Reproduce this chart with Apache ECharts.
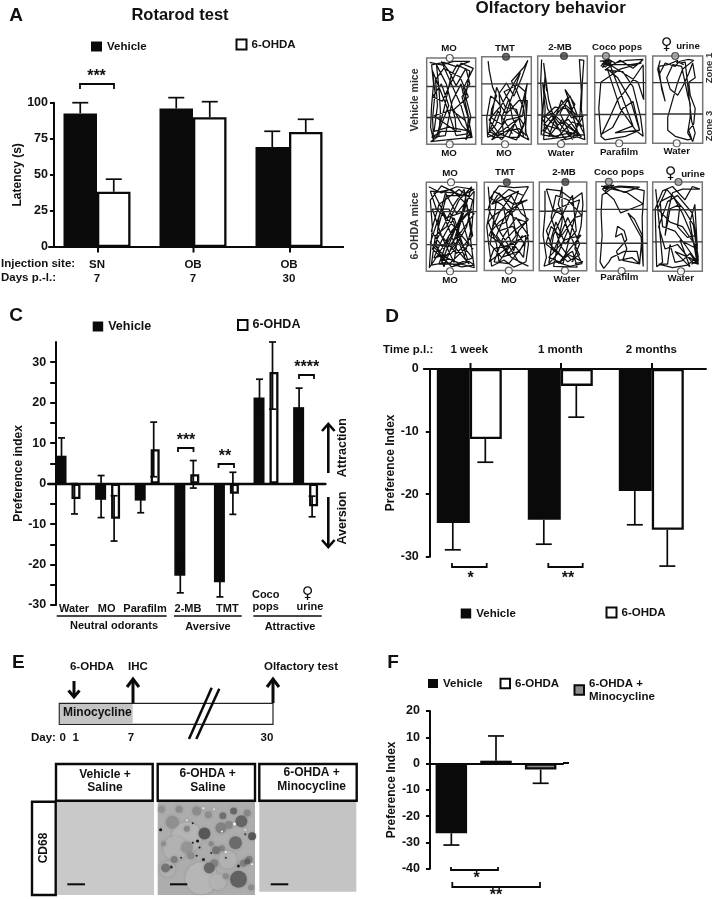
<!DOCTYPE html>
<html><head><meta charset="utf-8">
<style>html,body{margin:0;padding:0;background:#fff}#c{width:714px;height:899px;filter:blur(0.45px)}</style>
<script src="https://cdn.jsdelivr.net/npm/echarts@6/dist/echarts.min.js"></script>
</head><body><div id="c"></div>
<script>
// ---------- Panel A
const aCats = ['SN','OB','OB'];
const aDays = ['7','7','30'];
const aYTicks = {min:0,max:100,interval:25};
const aVehicle = [92.6,96,69.3];
const aVehicleErr = [100,103.5,80.2];
const aOhda = [38.3,90,79.7];
const aOhdaErr = [47,100.7,88.5];
// ---------- Panel C
const cCats = ['Water','MO','Parafilm','2-MB','TMT','Coco\npops','♀\nurine'];
const cVehicle = [6.9,-4,-4.2,-22.8,-24.4,21.3,18.9];
const cVehicleLow = [0,-8.4,-7.2,-27,-28,17,14];
const cVehicleHigh = [11.3,2,-1,-19,-21,25.8,23.6];
const cOhda = [-3.8,-8.7,8.5,2.3,-2.5,27.6,-5.6];
const cOhdaLow = [-7.5,-14.2,1.7,-1.1,-7.6,18.4,-8.2];
const cOhdaHigh = [0,-3,15.2,5.7,2.8,35,-3.1];
// ---------- Panel D
const dCats = ['1 week','1 month','2 months'];
const dVehicle = [-24.6,-24.1,-19.5];
const dVehicleErr = [-28.9,-28,-24.9];
const dOhda = [-11.2,-2.7,-25.7];
const dOhdaErr = [-14.9,-7.7,-31.5];
// ---------- Panel F
const fCats = ['Vehicle','6-OHDA','6-OHDA + Minocycline'];
const fValues = [-26.5,1.1,-2.3];
const fErr = [-31,10.5,-7.5];
// ---------- Panel B tracks (x %, y % from top of the arena)
const trackV1=[[6,5],[30,8],[55,4],[88,4],[60,10],[35,5],[10,8],[14,30],[10,55],[8,80],[14,96],[12,70],[17,40],[12,15],[40,55],[60,90],[82,88],[85,70],[72,45],[88,30],[80,12],[60,32],[45,15],[30,4],[70,55],[85,85],[90,92],[78,72],[50,60],[15,67],[35,75],[60,85],[58,70],[40,30],[20,8],[25,35],[28,62],[25,90],[8,97],[40,95],[70,93],[93,92],[85,82],[90,68],[75,35],[95,12],[70,6],[48,30],[32,50],[12,45],[30,30],[45,55],[20,92],[35,60],[50,20],[62,8],[88,15],[78,50],[92,90],[72,78],[55,60],[85,45],[68,22],[35,12],[18,25],[22,55],[15,85],[45,80],[90,85],[80,95],[88,75],[70,30],[52,50],[38,90],[10,92],[30,85],[70,85]];
const trackV2=[[13,5],[15,15],[22,35],[30,45],[20,60],[15,85],[30,90],[50,85],[75,82],[90,90],[85,60],[70,38],[60,28],[85,12],[93,4],[80,25],[65,45],[50,30],[35,42],[38,62],[28,78],[12,88],[25,92],[45,92],[40,70],[55,48],[62,70],[78,90],[95,95],[88,85],[92,50],[75,50],[50,65],[30,50],[18,45],[10,70],[12,92],[40,85],[70,72],[55,92],[75,92],[85,78],[60,55],[45,40],[72,32],[88,40],[90,70],[70,95],[35,88],[15,72],[40,55],[60,35],[78,18],[55,55],[42,78],[20,70],[30,35],[48,58],[70,60],[85,92],[58,82],[20,95],[50,72],[82,68],[92,30],[75,70],[40,95],[18,82],[33,62],[62,88]];
const trackV3=[[8,4],[6,30],[9,60],[7,90],[12,50],[15,20],[18,40],[12,8],[22,50],[35,75],[55,95],[80,92],[95,95],[88,60],[90,30],[93,5],[84,4],[88,40],[85,70],[70,95],[45,65],[65,45],[80,68],[55,55],[25,75],[10,90],[40,92],[70,75],[90,80],[60,60],[35,58],[15,68],[45,85],[75,55],[55,38],[70,62],[95,90],[60,88],[30,92],[8,70],[30,65],[55,78],[85,90],[12,95],[15,60],[10,30],[20,60],[40,78],[62,72],[88,92],[50,72],[22,92],[48,50],[68,70],[92,68],[72,88],[35,82],[12,78],[60,48],[80,85],[50,95],[10,85],[35,70],[65,92]];
const trackV4=[[10,6],[28,5],[18,10],[32,8],[15,13],[25,3],[40,8],[62,5],[95,4],[75,14],[50,5],[30,12],[20,16],[55,18],[75,35],[90,70],[95,92],[80,85],[50,60],[25,15],[45,25],[70,50],[88,85],[60,92],[20,96],[12,92],[30,70],[45,50],[60,40],[95,10],[96,50],[85,30],[30,10],[70,10],[92,8],[50,15],[12,30],[8,60],[12,90],[35,82],[55,60],[75,52],[88,85],[40,88],[75,80],[30,10],[16,6],[34,6],[20,13],[28,8],[14,9],[36,12],[22,4],[12,12]];
const trackV5=[[15,5],[10,15],[18,35],[25,52],[18,38],[12,12],[30,10],[50,5],[48,8],[55,6],[70,4],[82,5],[60,15],[50,30],[40,50],[35,60],[30,70],[30,85],[45,92],[70,96],[78,95],[72,85],[82,78],[85,60],[75,45],[72,30],[85,25],[80,8],[72,20],[60,35],[50,45],[35,38],[28,25],[40,10],[58,12],[70,45],[75,55],[75,70],[70,88],[80,98],[85,88],[78,75],[65,7],[57,8],[62,10],[52,7],[45,12],[25,8],[14,20]];
const trackM1=[[5,5],[30,12],[60,5],[95,8],[70,15],[30,4],[8,20],[12,50],[8,80],[6,96],[25,80],[50,55],[85,32],[95,35],[70,55],[45,72],[15,70],[40,85],[70,92],[95,96],[88,65],[92,40],[95,10],[60,35],[38,12],[25,40],[20,70],[35,95],[55,65],[72,35],[80,12],[65,50],[55,90],[30,60],[12,30],[45,30],[70,70],[92,85],[60,92],[25,92],[45,60],[90,30],[40,40],[15,12],[50,8],[80,25],[88,55],[75,85],[95,93],[70,95],[40,90],[10,93],[18,60],[40,50],[65,20],[90,5],[60,60],[80,90],[50,95],[8,68],[30,30],[60,75],[85,92],[55,40],[35,60],[15,85],[50,80],[80,50],[92,20],[65,8],[25,25],[10,55],[35,75],[70,40],[85,70],[45,92],[12,75],[55,25],[75,8],[92,60],[60,80],[22,55],[40,15],[85,15],[30,90],[70,60],[93,75],[48,45],[20,30],[8,10],[55,12]];
const trackM2=[[8,5],[12,30],[5,50],[10,75],[15,95],[40,88],[60,96],[85,90],[90,70],[85,40],[75,20],[90,5],[60,6],[30,4],[12,18],[35,25],[60,40],[85,45],[60,55],[35,70],[10,60],[30,35],[55,15],[75,35],[90,42],[70,55],[60,78],[50,60],[40,30],[18,38],[8,45],[25,70],[30,90],[55,70],[85,60],[80,85],[60,70],[20,75],[10,90],[45,75],[65,60],[55,30],[30,12],[15,25],[70,10],[45,45],[25,50],[70,90],[90,95],[55,85],[25,60],[45,35],[70,25],[88,20],[60,25],[20,10],[8,30],[30,55],[58,50],[82,70],[50,92],[20,90],[40,60],[65,40],[90,60],[72,78],[35,85],[12,70],[25,20],[50,8],[80,15],[62,32],[30,45],[15,55],[48,82],[78,60]];
const trackM3=[[12,10],[12,35],[8,60],[15,85],[10,95],[35,90],[65,95],[90,92],[75,75],[88,50],[92,25],[90,12],[70,20],[45,10],[15,8],[28,30],[50,38],[60,55],[40,80],[20,92],[30,60],[55,30],[70,15],[78,55],[55,70],[35,45],[22,70],[60,90],[85,82],[65,60],[40,25],[48,5],[48,45],[30,95],[80,96],[70,78],[50,85],[14,70],[25,50],[45,62],[75,40],[90,38],[60,20],[35,15],[25,40],[45,72],[70,90],[85,70],[60,40],[30,78],[15,55],[38,30],[85,20],[70,50],[50,92],[20,85],[55,65],[88,60],[40,92],[62,82],[92,90],[75,92]];
const trackM4=[[10,5],[25,7],[45,5],[85,6],[55,12],[30,6],[12,8],[35,20],[48,35],[70,30],[92,25],[60,12],[30,8],[12,15],[10,35],[12,60],[8,90],[15,97],[25,90],[30,85],[55,78],[80,78],[85,92],[70,85],[45,88],[40,78],[60,65],[55,55],[42,50],[38,62],[50,58],[60,75],[52,88],[85,92],[90,60],[75,42],[62,35],[88,62],[92,95],[90,40],[94,10],[70,7],[50,6],[20,6],[15,5],[35,4],[18,10],[28,4],[14,7]];
const trackM5=[[6,8],[12,40],[15,60],[20,90],[8,95],[5,30],[20,10],[40,5],[65,20],[80,5],[95,8],[60,8],[40,12],[30,35],[25,60],[35,30],[55,25],[50,50],[70,62],[85,60],[92,85],[75,55],[60,35],[40,15],[15,22],[20,50],[45,55],[65,70],[90,90],[75,85],[45,78],[75,95],[55,65],[90,75],[88,55],[85,25],[75,45],[90,92],[75,80],[60,88],[45,90],[35,70],[30,92],[12,92],[40,96],[70,93],[88,85],[90,70],[80,35],[50,15],[30,22],[12,50],[25,75],[50,70],[80,90],[92,92],[85,70],[60,50],[35,45],[10,30],[28,8],[62,30],[82,48],[92,88],[78,92]];
// zone boundaries and odor-dot x (%)
const zonesList=[[33,69],[31,67],[31,67],[30.5,67],[30.5,66.5],[33,70],[31,67],[33,69],[31,69],[31,67]];
const dotTopX=[47,49,53,22,45,49,46,55,25,52];
const dotBottomX=[47,47,47,48,48,47,50,54,50,57];
const dotTopKind=['o','d','d','g','g','o','d','d','g','g'];
// ---------- Panel E micrograph blobs: x %, y % from top, diameter, grey
const blobs=[[30,38,30,'#b8b8b8'],[45,82,32,'#b9b9b9'],[18,50,24,'#b5b5b5'],[72,62,18,'#b5b5b5'],[10,72,16,'#b4b4b4'],[62,86,16,'#b5b5b5'],
[15,22,13,'#8e8e8e'],[40,10,9,'#8a8a8a'],[65,28,11,'#808080'],[30,29,6,'#858585'],[30,49,12,'#939393'],[17,62,7,'#7a7a7a'],[8,71,9,'#707070'],[34,58,7,'#8a8a8a'],[4,8,7,'#909090'],[52,14,7,'#8c8c8c'],[94,62,7,'#7a7a7a'],[58,66,8,'#808080'],[73,25,8,'#858585'],[88,66,7,'#7c7c7c'],[22,8,7,'#8a8a8a'],[6,45,5,'#8a8a8a'],[55,45,5,'#858585'],[92,12,7,'#858585'],[96,92,6,'#8a8a8a'],[66,50,6,'#7f7f7f'],[70,80,6,'#888888'],
[48,34,12,'#505050'],[80,44,13,'#666666'],[83,83,17,'#5c5c5c'],[86,21,12,'#5f5f5f'],[97,37,8,'#505050'],[53,71,11,'#626262'],[67,15,7,'#6a6a6a'],[78,10,7,'#626262'],[92,64,6,'#5e5e5e'],[60,52,8,'#707070'],
[3,30,3,'#000000'],[36,23,2,'#111111'],[41,42,3,'#000000'],[36,44,2,'#111111'],[43,49,2,'#111111'],[40,58,2,'#111111'],[47,62,3,'#111111'],[83,69,3,'#111111'],[14,70,3,'#222222'],[70,60,2,'#222222'],[24,60,2,'#222222'],[55,55,2,'#222222'],[90,35,2,'#222222'],
[47,7,2,'#ffffff'],[66,32,2,'#ffffff'],[79,24,3,'#ffffff'],[97,67,2,'#ffffff'],[70,54,2,'#ffffff'],[30,20,2,'#eeeeee'],[58,8,2,'#eeeeee'],[90,30,2,'#eeeeee']];

const FF='"Liberation Sans","DejaVu Sans",sans-serif';
const BLK='#0a0a0a';
const gr=[], xa=[], ya=[], ser=[], g=[];

function T(x,y,text,size,o){o=o||{};
  g.push({type:'text',x:x,y:y,rotation:o.rot||0,z:50,style:{text:text,x:0,y:0,fill:o.fill||'#111',align:o.align||'center',verticalAlign:'middle',font:'bold '+(size||12)+'px '+(o.font||FF)}});}
function V(x,y){T(x,y,'♀',16,{font:'"DejaVu Sans"'});}
function L(pts,w,c){g.push({type:'polyline',z:50,shape:{points:pts},style:{stroke:c||BLK,lineWidth:w||2,fill:null}});}
function R(x,y,w,h,fill,stroke,lw,z){g.push({type:'rect',z:z||5,shape:{x:x,y:y,width:w,height:h},style:{fill:fill,stroke:stroke||null,lineWidth:lw||0}});}

function errSeries(name,gi,dx,cap,lows,highs,lowCap){
  ser.push({type:'custom',name:name,xAxisIndex:gi.x,yAxisIndex:gi.y,z:6,clip:false,silent:true,legendHoverLink:false,
    encode:{x:0,y:[1,2]},data:lows.map((l,i)=>[i,l,highs[i]]),
    renderItem:(p,api)=>{const i=api.value(0);const a=api.coord([i,api.value(1)]);const b=api.coord([i,api.value(2)]);
      const X=a[0]+dx;const st={stroke:BLK,lineWidth:1.7};
      const ch=[{type:'line',shape:{x1:X,y1:a[1],x2:X,y2:b[1]},style:st},
        {type:'line',shape:{x1:X-cap,y1:b[1],x2:X+cap,y2:b[1]},style:st}];
      if(lowCap) ch.push({type:'line',shape:{x1:X-cap,y1:a[1],x2:X+cap,y2:a[1]},style:st});
      return {type:'group',children:ch};}});
}
const VEH={color:BLK,borderColor:BLK,borderWidth:0};
const OHD={color:'#fff',borderColor:BLK,borderWidth:2.3};
function barS(name,idx,data,style,w,gap){ser.push({type:'bar',name:name,xAxisIndex:idx.x,yAxisIndex:idx.y,data:data,barWidth:w,barGap:gap,itemStyle:style,z:3,silent:true});}
function yAx(o){return Object.assign({type:'value',position:'left',gridIndex:o.grid,splitLine:{show:false},nameLocation:'middle',
   axisLine:{show:true,onZero:false,lineStyle:{color:BLK,width:2}},axisTick:{show:true,length:o.tick||4,lineStyle:{color:BLK,width:2}},
   axisLabel:{color:'#111',fontFamily:FF,fontWeight:'bold',fontSize:12.5,margin:o.margin||6},
   nameTextStyle:{color:'#111',fontFamily:FF,fontWeight:'bold',fontSize:o.nameSize||12}},o.ext);}

// ---- A
gr.push({left:49,top:102.7,width:288,height:144.3});
xa.push({type:'category',gridIndex:0,data:aCats,axisLine:{lineStyle:{color:BLK,width:2}},axisTick:{show:false},
  axisLabel:{color:'#111',fontFamily:FF,fontWeight:'bold',fontSize:11.5,lineHeight:14,margin:11,interval:0,formatter:(v,i)=>aCats[i]+'\n'+aDays[i]}});
ya.push(yAx({grid:0,margin:6,ext:Object.assign({offset:-5,name:'Latency (s)',nameGap:28},aYTicks)}));
barS('Vehicle',{x:0,y:0},aVehicle,VEH,33.5,'0%');
barS('6-OHDA',{x:0,y:0},aOhda,OHD,33.5,'0%');
errSeries('eA1',{x:0,y:0},-16.75,8,aVehicle,aVehicleErr);
errSeries('eA2',{x:0,y:0},16.75,8,aOhda,aOhdaErr);
L([[337,247],[344,247]],2);
[98,193.5,290].forEach(x=>L([[x,247],[x,252.5]],2));
T(16,16,'A',19);T(180,15,'Rotarod test',16.5);
T(1,263.7,'Injection site:',11.5,{align:'left'});T(1,278,'Days p.-l.:',11.5,{align:'left'});
L([[80,89],[80,84],[114,84],[114,89]],1.8);T(96.5,77,'***',16);

// ---- C
gr.push({left:48.2,top:342,width:277.2,height:263});
xa.push({type:'category',gridIndex:1,data:cCats,axisLine:{onZero:true,lineStyle:{color:BLK,width:2.4}},axisTick:{show:false},axisLabel:{show:false},z:10});
ya.push(yAx({grid:1,margin:10,tick:6,ext:{min:-30,max:35,interval:5,offset:-8,name:'Preference index',nameGap:19,
  axisLabel:{color:'#111',fontFamily:FF,fontWeight:'bold',fontSize:12.5,margin:10,showMaxLabel:false,formatter:v=>v%10===0?String(v):''}}}));
barS('Vehicle',{x:1,y:1},cVehicle,VEH,11,'20%');
barS('6-OHDA',{x:1,y:1},cOhda,OHD,9,'45%');
errSeries('eC1',{x:1,y:1},-6.5,3.5,cVehicleLow,cVehicleHigh,true);
errSeries('eC2',{x:1,y:1},6.5,3.5,cOhdaLow,cOhdaHigh,true);
T(16,316,'C',19);
[['Water',74,609],['MO',106.7,609],['Parafilm',145,609],['2-MB',188,609],['TMT',227.3,609],['Coco',265.7,595],['pops',265.7,607],['urine',310,607]].forEach(a=>T(a[1],a[2],a[0],11));
V(307.7,594);
L([[56.7,616],[166.7,616]],1.6);L([[174,616],[241.7,616]],1.6);L([[253.3,616],[321.7,616]],1.6);
T(114,626,'Neutral odorants',11);T(208,626.5,'Aversive',11);T(290,627,'Attractive',11);
L([[178,452],[178,448],[193.5,448],[193.5,452]],1.8);T(186,441,'***',16);
L([[218.5,468],[218.5,464],[234,464],[234,468]],1.8);T(225,457,'**',16);
L([[299,379],[299,375],[314,375],[314,379]],1.8);T(306.7,368,'****',16);
L([[328.3,473],[328.3,425]],2.6);L([[322,431],[328.3,424],[334.6,431]],2.6);
L([[328.3,497],[328.3,546]],2.6);L([[322,540],[328.3,547],[334.6,540]],2.6);
T(342.7,447.7,'Attraction',12.5,{rot:Math.PI/2});T(342.7,518,'Aversion',12.5,{rot:Math.PI/2});

// ---- D
gr.push({left:423.8,top:369,width:273,height:187.7});
xa.push({type:'category',gridIndex:2,position:'top',data:dCats,axisLine:{onZero:false,lineStyle:{color:BLK,width:2}},axisTick:{show:false},
  axisLabel:{color:'#111',fontFamily:FF,fontWeight:'bold',fontSize:11.5,margin:13,interval:0}});
ya.push(yAx({grid:2,margin:11,ext:{min:-30,max:0,interval:10,offset:-6,name:'Preference Index',nameGap:29}}));
barS('Vehicle',{x:2,y:2},dVehicle,VEH,33,'0%');
barS('6-OHDA',{x:2,y:2},dOhda,OHD,32,'0%');
errSeries('eD1',{x:2,y:2},-16.5,8,dVehicle,dVehicleErr);
errSeries('eD2',{x:2,y:2},16,8,dOhda,dOhdaErr);
L([[696,369],[706.7,369]],2);
[470.5,561,652].forEach(x=>L([[x,369],[x,363]],2));
T(392,317,'D',19);T(383,350,'Time p.l.:',11.5,{align:'left'});
L([[452,563],[452,567],[486.7,567],[486.7,563]],1.8);T(470.7,579,'*',16);
L([[548.3,563],[548.3,567],[582.7,567],[582.7,563]],1.8);T(568,579,'**',16);

// ---- F
gr.push({left:429,top:711,width:134,height:157.7});
xa.push({type:'category',gridIndex:3,data:fCats,axisLine:{onZero:true,lineStyle:{color:BLK,width:2}},axisTick:{show:false},axisLabel:{show:false}});
ya.push(yAx({grid:3,margin:10,ext:{min:-40,max:20,interval:10,offset:-1,name:'Preference Index',nameGap:31}}));
const fStyles=[VEH,OHD,{color:'#8c8c8c',borderColor:BLK,borderWidth:2.3}];
fCats.forEach((n,i)=>{ser.push({type:'bar',name:n,xAxisIndex:3,yAxisIndex:3,stack:'f',barWidth:i?29.5:31.5,z:3,silent:true,itemStyle:fStyles[i],data:fValues.map((v,j)=>j===i?v:null)});});
errSeries('eF',{x:3,y:3},0,8,fValues,fErr);
L([[563,763],[569,763]],2);
T(393,663,'F',19);
L([[451,867],[451,870],[498,870],[498,867]],1.8);T(476.7,879,'*',16);
L([[452.3,882],[452.3,887],[540,887],[540,882]],1.8);T(496,896,'**',16);

// ---- B arenas
const tracks=[trackV1,trackV2,trackV3,trackV4,trackV5,trackM1,trackM2,trackM3,trackM4,trackM5];
const boxes=[[426.7,58,49,86.3],[481.7,56.7,49.6,87.6],[537.7,56,49.6,88],[594.7,56,51,87.3],[652.7,56,50,87.3],
             [426.3,182.3,50.4,89],[484.3,182.3,49,88.3],[539.3,182,47.4,88.7],[596,181.7,51.3,89.3],[652.7,182,49.6,89.3]];
const dotColor={o:'#fff',d:'#444',g:'#999'};
tracks.forEach((tr,i)=>{
  const gi=gr.length,b=boxes[i];
  gr.push({left:b[0],top:b[1],width:b[2],height:b[3],show:true,borderColor:'#777',borderWidth:1.5,backgroundColor:'#fff'});
  xa.push({type:'value',gridIndex:gi,min:0,max:100,show:false});
  ya.push({type:'value',gridIndex:gi,min:0,max:100,inverse:true,show:false});
  ser.push({type:'line',name:'track'+i,xAxisIndex:gi,yAxisIndex:gi,data:tr,showSymbol:false,symbol:'none',silent:true,lineStyle:{color:'#111',width:1.25},z:3});
  zonesList[i].forEach((z,k)=>ser.push({type:'line',name:'zone'+i+k,xAxisIndex:gi,yAxisIndex:gi,data:[[0,z],[100,z]],symbol:'none',silent:true,lineStyle:{color:'#333',width:1.4},z:4}));
  ser.push({type:'scatter',name:'odorTop'+i,xAxisIndex:gi,yAxisIndex:gi,clip:false,symbolSize:7,silent:true,z:5,
    itemStyle:{color:dotColor[dotTopKind[i]],borderColor:'#333',borderWidth:1.1},data:[[dotTopX[i],0]]});
  ser.push({type:'scatter',name:'odorBottom'+i,xAxisIndex:gi,yAxisIndex:gi,clip:false,symbolSize:7,silent:true,z:5,
    itemStyle:{color:'#fff',borderColor:'#333',borderWidth:1.1},data:[[dotBottomX[i],100]]});
});
T(381,16,'B',19,{align:'left'});
T(550.7,8,'Olfactory behavior',17);
const S=9.7;
[['MO',449,48],['TMT',505,48],['2-MB',560,47.5],['Coco pops',617,47],['urine',688,46],
 ['MO',449,153],['MO',504,153],['Water',561,153.5],['Parafilm',619,152],['Water',676.7,151],
 ['MO',450,173],['TMT',505,172],['2-MB',564,172.5],['Coco pops',619,172],['urine',693,174],
 ['MO',450,280],['MO',509,280],['Water',566.7,279],['Parafilm',619.3,277],['Water',680.7,278]].forEach(a=>T(a[1],a[2],a[0],S));
V(666.7,45);V(670.7,174);
T(415,100,'Vehicle mice',10.5,{rot:Math.PI/2,fill:'#333'});T(415,226,'6-OHDA mice',10.5,{rot:Math.PI/2,fill:'#333'});
T(709,68,'Zone 1',9.5,{rot:Math.PI/2,fill:'#333'});T(709,126,'Zone 3',9.5,{rot:Math.PI/2,fill:'#333'});

// ---- E
T(12,663,'E',19,{align:'left'});
T(92,667,'6-OHDA',11.5);T(138,667,'IHC',11.5);T(301,666.5,'Olfactory test',11.5);
R(59.3,703.3,213.7,21,'#fff','#222',1.2,4);R(59.9,704,72.8,19.8,'#c4c4c4',null,0,5);
T(63,713,'Minocycline',12,{align:'left'});
L([[74,681],[74,696]],3);L([[68.5,690.5],[74,697],[79.5,690.5]],3);
L([[133,703],[133,680]],3);L([[127,687],[133,679],[139,687]],3);
L([[273,703],[273,680]],3);L([[267,687],[273,679],[279,687]],3);
L([[189,739],[211.7,687.7]],2.5);L([[196.3,739],[219.3,688.7]],2.5);
T(31,737.7,'Day:',11.5,{align:'left'});T(62.7,737.7,'0',11.5);T(75.7,737.7,'1',11.5);T(131,737.7,'7',11.5);T(267,737.7,'30',11.5);
R(56.7,801.7,97.3,93.3,'#c9c9c9');R(259.3,801.7,97,90,'#c4c4c4');
const egi=gr.length;
gr.push({left:157.7,top:801.7,width:97.3,height:93.3,show:true,borderWidth:0,backgroundColor:'#adadad'});
xa.push({type:'value',gridIndex:egi,min:0,max:100,show:false});
ya.push({type:'value',gridIndex:egi,min:0,max:100,inverse:true,show:false});
ser.push({type:'scatter',name:'CD68',xAxisIndex:egi,yAxisIndex:egi,silent:true,z:3,data:blobs.map(b=>[b[0],b[1],b[2],b[3]]),
  symbolSize:v=>v[2],itemStyle:{opacity:0.9,shadowBlur:3,color:p=>p.value[3],shadowColor:'rgba(120,120,120,0.5)'}});
[[56,764,96.7],[157.7,764,97.3],[259.3,764,97.4]].forEach(b=>R(b[0],b[1],b[2],36.7,'#fff',BLK,2.4,20));
R(32,801.7,23.7,93.3,'#fff',BLK,2.4,20);
T(43.7,848,'CD68',12,{rot:Math.PI/2});
T(105,775,'Vehicle +',12);T(105,788,'Saline',12);T(207.7,774,'6-OHDA +',12);T(208,787.5,'Saline',12);T(311.7,773,'6-OHDA +',12);T(311.7,786.7,'Minocycline',12);
L([[67.3,884.3],[85,884.3]],2);L([[170,884.3],[187.3,884.3]],2);L([[270.7,884.3],[288.3,884.3]],2);

function leg(name,left,top,w,h,text,size){return {show:true,data:[{name:name,icon:'rect'}],left:left,top:top,padding:0,itemWidth:w,itemHeight:h,itemGap:0,selectedMode:false,
  textStyle:{color:'#111',fontFamily:FF,fontWeight:'bold',fontSize:size||11.5,lineHeight:13},formatter:text?(()=>text):undefined};}
const legends=[leg('Vehicle',91,40,11,10),leg('6-OHDA',235.5,38,10,10),
 leg('Vehicle',92.7,320,10.5,10,null,12.5),leg('6-OHDA',237,318.5,9.5,10,null,12.5),
 leg('Vehicle',460.7,607,10.5,10),leg('6-OHDA',605.5,606,10,10),
 leg('Vehicle',428,677,10,9),leg('6-OHDA',499.5,677,9.5,9.5),leg('6-OHDA + Minocycline',573.5,677,9.5,9.5,'6-OHDA +\nMinocycline')];

const chart=echarts.init(document.getElementById('c'),null,{renderer:'canvas',width:714,height:899});
chart.setOption({animation:false,backgroundColor:'#fff',textStyle:{fontFamily:FF},legend:legends,grid:gr,xAxis:xa,yAxis:ya,series:ser,graphic:{elements:g}});
</script></body></html>
